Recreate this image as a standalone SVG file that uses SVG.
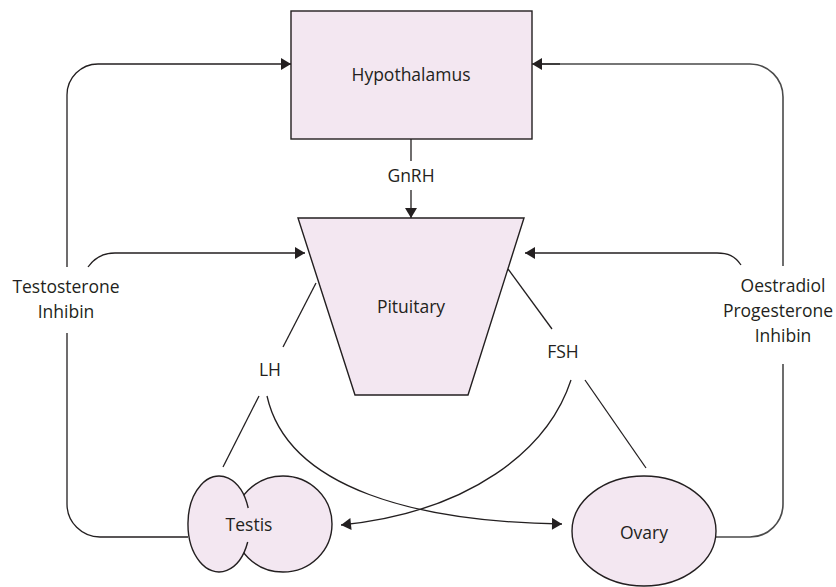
<svg xmlns="http://www.w3.org/2000/svg" width="836" height="587" viewBox="0 0 836 587">
<style>
.node{fill:#f3e7f1;stroke:#231f20;stroke-width:1.4}
.fillonly{fill:#f3e7f1;stroke:none}
.outline{fill:none;stroke:#231f20;stroke-width:1.4}
.c{fill:none;stroke:#231f20;stroke-width:1.3}
.g{fill:none;stroke:#4a4a4a;stroke-width:1.6}
.arr{marker-end:url(#ah)}
text{font-family:"Open Sans","Noto Sans",sans-serif;font-size:17.5px;fill:#231f20;text-anchor:middle}
</style>
<defs>
<marker id="ah" viewBox="0 0 10 12" refX="10" refY="6" markerWidth="11" markerHeight="12" markerUnits="userSpaceOnUse" orient="auto">
<path d="M0,0 L10,6 L0,12 z" fill="#231f20"/>
</marker>
</defs>
<g id="connectors">
<path class="c" d="M411 139 V161"/>
<path class="c arr" d="M411 190 V218"/>
<path class="c" d="M188 537 H100 A33 33 0 0 1 67 504 V333"/>
<path class="c arr" d="M67 267 V95 A31 31 0 0 1 98 64 H291"/>
<path class="c arr" d="M88 267 C95 257 103 253 115 253 H305"/>
<path class="g" d="M716 537 H750 A33 33 0 0 0 783 504 V364"/>
<path class="g" d="M783 266 V97 A33 33 0 0 0 750 64 H542"/>
<path class="c arr" d="M560 64 H532"/>
<path class="c arr" d="M741 265 C735 256 728 253 717 253 H525"/>
<path class="c" d="M316 283 L283 347"/>
<path class="c" d="M259 396 L223 467"/>
<path class="c arr" d="M267 396 C288 490 420 522 562 524"/>
<path class="c" d="M508 269 L552 329"/>
<path class="c" d="M585 380 L646 468"/>
<path class="c arr" d="M571 380 C548 450 470 512 341 525"/>
</g>
<g id="hypothalamus">
<rect class="node" x="291" y="11" width="241" height="128"/>
<text x="411" y="81">Hypothalamus</text>
</g>
<g id="gnrh-label"><text x="411" y="182">GnRH</text></g>
<g id="pituitary">
<polygon class="node" points="298,218 524,218 468,395 355,395"/>
<text x="411" y="313">Pituitary</text>
</g>
<g id="lh-label"><text x="270" y="376">LH</text></g>
<g id="fsh-label"><text x="563" y="358">FSH</text></g>
<g id="male-label">
<text x="66" y="293">Testosterone</text>
<text x="66" y="318">Inhibin</text>
</g>
<g id="female-label">
<text x="783" y="292">Oestradiol</text>
<text x="778" y="317">Progesterone</text>
<text x="783" y="342">Inhibin</text>
</g>
<g id="testis">
<ellipse class="node" cx="283" cy="524" rx="49" ry="48"/>
<ellipse class="fillonly" cx="219" cy="524" rx="31" ry="48"/>
<path class="outline" d="M248.2 508 A31 48 0 1 0 247.7 542"/>
<text x="249" y="531">Testis</text>
</g>
<g id="ovary">
<ellipse class="node" cx="644" cy="531" rx="72" ry="55"/>
<text x="644" y="539">Ovary</text>
</g>
</svg>
